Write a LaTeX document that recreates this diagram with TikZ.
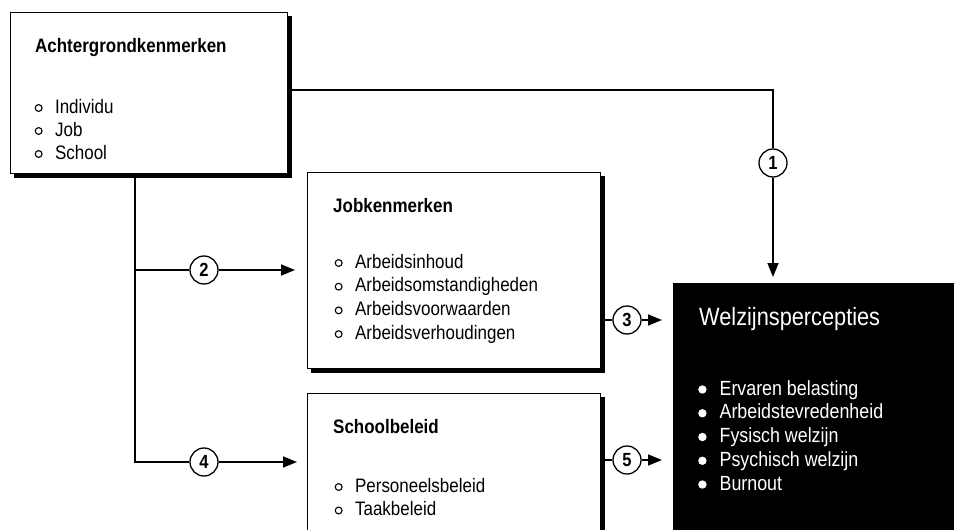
\documentclass[tikz,border=0pt]{standalone}
\usepackage{fontspec}
\setmainfont[FakeStretch=0.87]{Liberation Sans}
\usetikzlibrary{arrows.meta}
% list markers
\newcommand{\ringdot}{\tikz[baseline={(0pt,-5pt)}]\draw[line width=1.1pt] (0pt,0pt) circle (3.4pt);}
\newcommand{\whitedot}{\tikz[baseline={(0pt,-5.5pt)}]\fill[white] (0pt,0pt) circle (4.2pt);}
\begin{document}
\begin{tikzpicture}[x=1pt,y=-1pt,
  box/.style={draw, line width=1.2pt, fill=white, anchor=north west, inner sep=0pt},
  shade/.style={line width=3.5pt},
  title/.style={anchor=base west, inner sep=0pt, font=\fontsize{19.5}{22}\selectfont\bfseries},
  item/.style={anchor=base west, inner sep=0pt, font=\fontsize{19.5}{22}\selectfont},
  witem/.style={anchor=base west, inner sep=0pt, text=white, font=\fontsize{20.5}{22}\selectfont},
  num/.style={circle, draw, line width=1.3pt, fill=white, minimum size=28pt, inner sep=0pt,
              font=\fontsize{19}{19}\selectfont\bfseries},
  link/.style={line width=1.6pt},
  arr/.style={link, -{Triangle[length=14pt,width=11pt]}}
]
\clip (0,0) rectangle (954,530);
\fill[white] (0,0) rectangle (954,530);

% boxes
\node[box, minimum width=277pt, minimum height=161pt] (bg) at (10,12) {};
\node[box, minimum width=293pt, minimum height=196pt] (jk) at (307,172) {};
\node[box, minimum width=293pt, minimum height=200pt] (sb) at (307,393) {};
\node[fill=black, anchor=north west, inner sep=0pt, minimum width=300pt, minimum height=260pt] (wp) at (673,283) {};

% drop shadows on the right and bottom edges
\foreach \b in {bg,jk,sb}
  \draw[shade] ([xshift=2pt,yshift=-4pt]\b.north east) -- ([xshift=2pt,yshift=-2pt]\b.south east)
               -- ([xshift=4pt,yshift=-2pt]\b.south west);

% numbered links
\node[num] (c1) at (773,163) {1};
\node[num] (c2) at (204,270) {2};
\node[num] (c3) at (627,320) {3};
\node[num] (c4) at (204,462) {4};
\node[num] (c5) at (627,460) {5};

\coordinate (tr) at ([xshift=125pt]bg.south west);

\draw[link] ([yshift=3pt]bg.east) -| (c1.north);
\draw[arr, shorten >=6pt] (c1.south) -- (c1 |- wp.north);

\draw[link, line width=2pt] (tr) |- (c4.west);
\draw[link] (tr |- c2) -- (c2.west);
\draw[arr, shorten >=12pt] (c2.east) -- (c2 -| jk.west);
\draw[arr, shorten >=10pt] (c4.east) -- (c4 -| sb.west);

\draw[link] ([xshift=3pt]jk.east |- c3) -- (c3.west);
\draw[arr, shorten >=11pt] (c3.east) -- (c3 -| wp.west);
\draw[link] ([xshift=3pt]sb.east |- c5) -- (c5.west);
\draw[arr, shorten >=11pt] (c5.east) -- (c5 -| wp.west);

% texts
\node[title] (bgt) at (35,52) {Achtergrondkenmerken};
\foreach \t [count=\i] in {Individu, Job, School}
  \node[item] (bgi\i) at (34.5,{113+23*(\i-1)}) {\ringdot\hspace{12.5pt}\t};

\node[title] (jkt) at (333,212) {Jobkenmerken};
\foreach \t [count=\i] in {Arbeidsinhoud, Arbeidsomstandigheden, Arbeidsvoorwaarden, Arbeidsverhoudingen}
  \node[item] (jki\i) at (334.5,{268+23.7*(\i-1)}) {\ringdot\hspace{12.5pt}\t};

\node[title] (sbt) at (333,433) {Schoolbeleid};
\foreach \t [count=\i] in {Personeelsbeleid, Taakbeleid}
  \node[item] (sbi\i) at (334.5,{492+23.5*(\i-1)}) {\ringdot\hspace{12.5pt}\t};

\node[anchor=base west, inner sep=0pt, text=white, font=\fontsize{25}{28}\selectfont] (wpt) at (699,325) {Welzijnspercepties};
\foreach \t [count=\i] in {Ervaren belasting, Arbeidstevredenheid, Fysisch welzijn, Psychisch welzijn, Burnout}
  \node[witem] (wpi\i) at (698,{395+23.75*(\i-1)}) {\whitedot\hspace{13pt}\t};
\end{tikzpicture}
\end{document}
